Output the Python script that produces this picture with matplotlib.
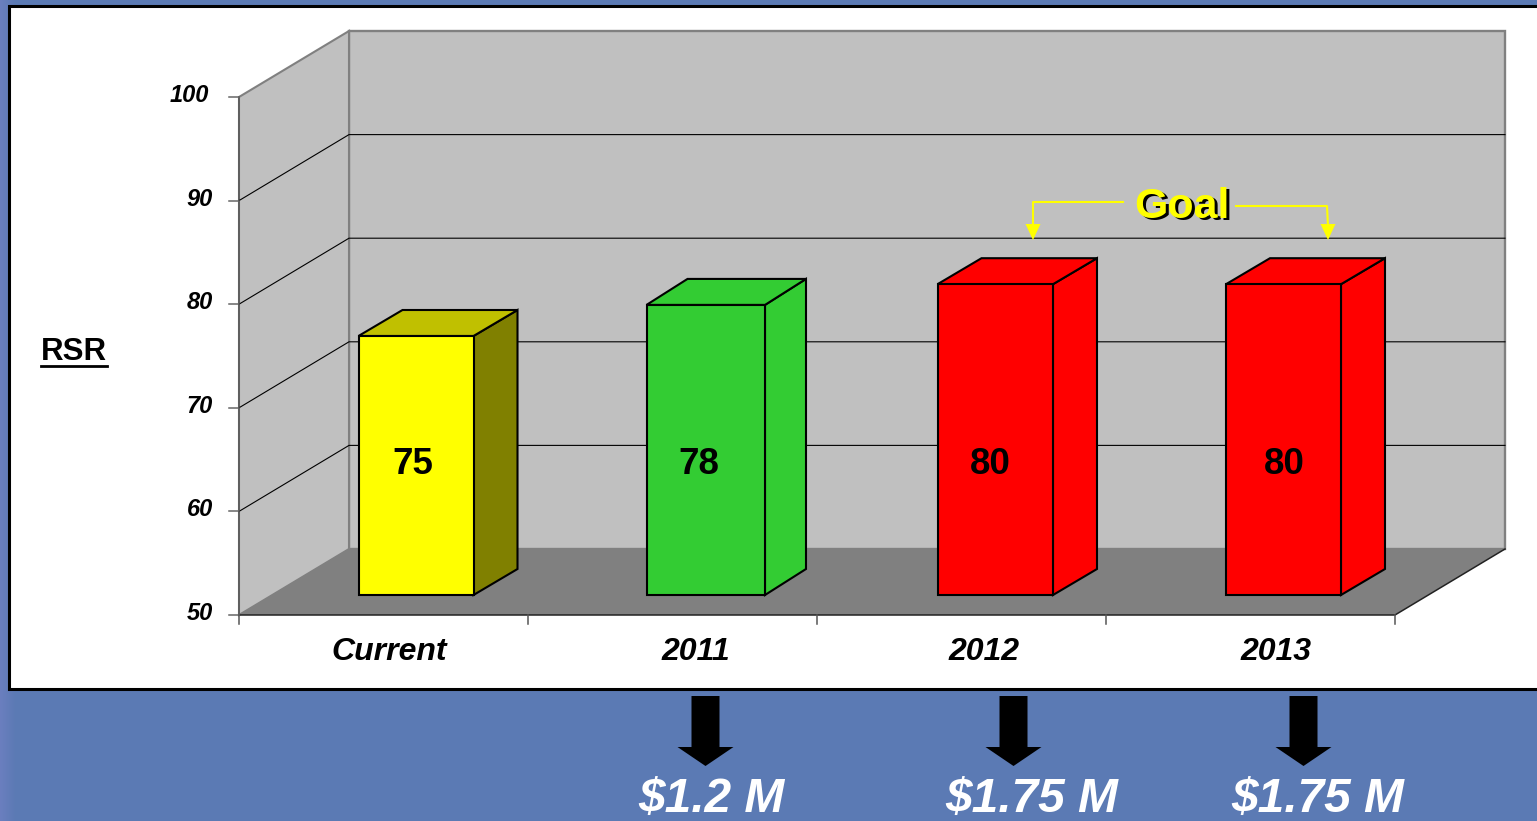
import matplotlib
matplotlib.use('Agg')
import matplotlib.pyplot as plt
import numpy as np
from matplotlib.patches import Polygon, Rectangle

# chart data
categories = ['Current', '2011', '2012', '2013']
rsr_values = [75, 78, 80, 80]
bar_colors = ['#ffff00', '#33cc33', '#ff0000', '#ff0000']
top_colors = ['#c0c000', '#33cc33', '#ff0000', '#ff0000']
side_colors = ['#808000', '#33cc33', '#ff0000', '#ff0000']
y_ticks = [50, 60, 70, 80, 90, 100]
funding_labels = ['$1.2 M', '$1.75 M', '$1.75 M']

plt.rcParams['font.family'] = ['Liberation Sans', 'DejaVu Sans']

BLUE = '#5b7ab4'
fig = plt.figure(figsize=(15.37, 8.21), dpi=100, facecolor=BLUE)
ax = fig.add_axes([0, 0, 1, 1])
ax.set_xlim(0, 1537)
ax.set_ylim(821, 0)
ax.axis('off')

# slightly lighter band down the left edge of the slide
band = np.array([[[0.42, 0.50, 0.75, 1 - i / 15] for i in range(16)]])
ax.imshow(band, extent=(0, 16, 821, 0), aspect='auto', zorder=0.5, interpolation='bilinear')
ax.set_xlim(0, 1537)
ax.set_ylim(821, 0)

# white panel behind the chart
ax.add_patch(Rectangle((9, 6), 1540, 683, fc='white', ec='black', lw=2.2, zorder=1))

# pseudo 3D frame
x0, x1 = 239, 1395
y_base = 615
px_per_unit = 10.36
dx, dy = 110, 66
slot = (x1 - x0) / len(categories)


def val_y(v):
    return y_base - (v - y_ticks[0]) * px_per_unit


y_top = val_y(y_ticks[-1])

# back wall, side wall, floor
ax.add_patch(Polygon([(x0 + dx, y_top - dy), (x1 + dx, y_top - dy),
                      (x1 + dx, y_base - dy), (x0 + dx, y_base - dy)],
                     fc='#c0c0c0', ec='#808080', lw=1.7, zorder=2))
ax.add_patch(Polygon([(x0, y_top), (x0 + dx, y_top - dy),
                      (x0 + dx, y_base - dy), (x0, y_base)],
                     fc='#c0c0c0', ec='#808080', lw=1.5, zorder=2))
ax.add_patch(Polygon([(x0, y_base), (x0 + dx, y_base - dy),
                      (x1 + dx, y_base - dy), (x1, y_base)],
                     fc='#808080', ec='none', zorder=2))
ax.plot([x0, x1, x1 + dx], [y_base, y_base, y_base - dy], color='#222222', lw=1.1, zorder=3)
ax.plot([x0, x0], [y_top, y_base], color='#555555', lw=1.1, zorder=3)

# gridlines and y ticks
for v in y_ticks:
    y = val_y(v)
    if v not in (y_ticks[0], y_ticks[-1]):
        ax.plot([x0, x0 + dx, x1 + dx], [y, y - dy, y - dy], color='black', lw=0.8, zorder=3)
    ax.plot([x0 - 10, x0], [y, y], color='#666666', lw=1.1, zorder=3)
    # the 100 label sits a bit further left in the original
    label_x = x0 - 30 if v == 100 else x0 - 26
    ax.text(label_x, y - 1.5, str(v), ha='right', va='center', fontsize=17,
            fontweight='bold', fontstyle='italic', color='black', zorder=5)

# x ticks
for i in range(len(categories) + 1):
    x = x0 + i * slot
    ax.plot([x, x], [y_base, y_base + 9], color='#555555', lw=1.1, zorder=3)

# bars, widths differ by a pixel or so in the original
bar_left = [358.5, 646.5, 937.5, 1226]
bar_right = [473.5, 765, 1053, 1341]
bar_depth = [44, 41, 44, 44]
depth_y = 26
off_y = 20
for i, v in enumerate(rsr_values):
    left = bar_left[i]
    right = bar_right[i]
    depth_x = bar_depth[i]
    bottom = y_base - off_y
    top = bottom - (v - y_ticks[0]) * px_per_unit
    ax.add_patch(Polygon([(right, top), (right + depth_x, top - depth_y),
                          (right + depth_x, bottom - depth_y), (right, bottom)],
                         fc=side_colors[i], ec='black', lw=1.5, joinstyle='miter', zorder=4))
    ax.add_patch(Polygon([(left, top), (left + depth_x, top - depth_y),
                          (right + depth_x, top - depth_y), (right, top)],
                         fc=top_colors[i], ec='black', lw=1.5, joinstyle='miter', zorder=4))
    ax.add_patch(Rectangle((left, top), right - left, bottom - top, fc=bar_colors[i], ec='black',
                           lw=1.5, joinstyle='miter', zorder=4))

# value labels and category labels sit a little off centre in the original
value_x = [413, 699, 990, 1284]
cat_x = [389, 695.5, 984.5, 1275.5]
for i, v in enumerate(rsr_values):
    ax.text(value_x[i], 464, str(v), ha='center', va='center', fontsize=26.5,
            fontweight='bold', color='black', zorder=6)
    ax.text(cat_x[i], 652, categories[i], ha='center', va='center', fontsize=23,
            fontweight='bold', fontstyle='italic', color='black', zorder=6)

# axis title
ax.text(74, 352, 'RSR', ha='center', va='center', fontsize=22.5, fontweight='bold', zorder=6)
ax.plot([41, 107], [366, 366], color='black', lw=2, zorder=6)

# Goal callout
ax.text(1185, 209, 'Goal', ha='center', va='center', fontsize=31, fontweight='bold',
        color='black', zorder=6)
ax.text(1182, 207, 'Goal', ha='center', va='center', fontsize=31, fontweight='bold',
        color='#ffff00', zorder=7)
ax.plot([1123, 1033, 1033], [202, 202, 226], color='#ffff00', lw=1.5, zorder=6)
ax.plot([1236, 1327, 1328], [206, 206, 226], color='#ffff00', lw=1.5, zorder=6)
ax.add_patch(Polygon([(1025.5, 224), (1040.5, 224), (1033, 240)], fc='#ffff00', ec='none', zorder=6))
ax.add_patch(Polygon([(1320.5, 224), (1335.5, 224), (1328, 240)], fc='#ffff00', ec='none', zorder=6))

# funding arrows below the panel
arrow_x = [705.5, 1013.5, 1303.5]
text_x = [711, 1032, 1318]
for ax_x, tx, lab in zip(arrow_x, text_x, funding_labels):
    ax.add_patch(Polygon([(ax_x - 14, 696), (ax_x + 14, 696), (ax_x + 14, 747),
                          (ax_x + 28, 747), (ax_x, 766), (ax_x - 28, 747), (ax_x - 14, 747)],
                         fc='black', ec='none', zorder=6))
    ax.text(tx, 800, lab, ha='center', va='center', fontsize=34.5, fontweight='bold',
            fontstyle='italic', color='white', zorder=6)

fig.savefig('out.png', dpi=100, facecolor=fig.get_facecolor())
